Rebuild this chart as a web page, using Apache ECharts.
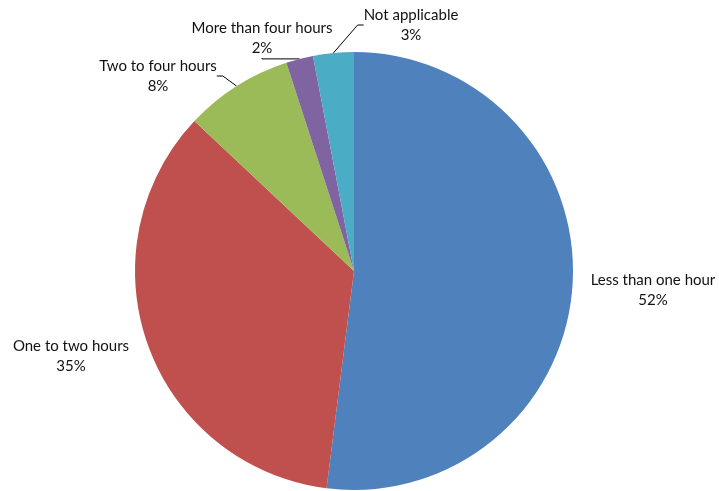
<!DOCTYPE html>
<html>
<head>
<meta charset="utf-8">
<script src="https://cdn.jsdelivr.net/npm/echarts@6/dist/echarts.min.js"></script>
<style>
  html, body { margin: 0; padding: 0; background: #ffffff; }
  #chart { width: 719px; height: 491px; }
</style>
</head>
<body>
<div id="chart"></div>
<script>
// Time spent, share of respondents (%)
const categories = ['Less than one hour', 'One to two hours', 'Two to four hours', 'More than four hours', 'Not applicable'];
const shares = [52, 35, 8, 2, 3];
const colors = ['#4F81BD', '#C0504D', '#9BBB59', '#8064A2', '#4BACC6'];
// which slices get a leader line to their label
const leaderLines = [false, false, true, true, true];
// label block centres
const labelSpots = [[653, 290], [71, 356], [158, 76], [262, 38], [411, 25]];

const chart = echarts.init(document.getElementById('chart'));

const data = categories.map((name, i) => ({
  name: name,
  value: shares[i],
  itemStyle: { color: colors[i] },
  labelLine: { show: leaderLines[i] }
}));

chart.setOption({
  animation: false,
  series: [{
    type: 'pie',
    center: [354, 271],
    radius: 219,
    startAngle: 90,
    clockwise: true,
    data: data,
    itemStyle: { borderWidth: 0 },
    label: {
      show: true,
      position: 'outside',
      formatter: '{b}\n{c}%',
      fontFamily: 'Lato',
      fontSize: 15,
      lineHeight: 20,
      color: '#111111',
      align: 'center',
      overflow: 'none'
    },
    labelLine: {
      show: true,
      length: 10,
      length2: 6,
      lineStyle: { color: '#000000', width: 1 }
    },
    labelLayout: function (params) {
      const p = labelSpots[params.dataIndex];
      return {
        x: p[0],
        y: p[1],
        align: 'center',
        verticalAlign: 'middle'
      };
    },
    emphasis: { disabled: true }
  }]
});
</script>
</body>
</html>
